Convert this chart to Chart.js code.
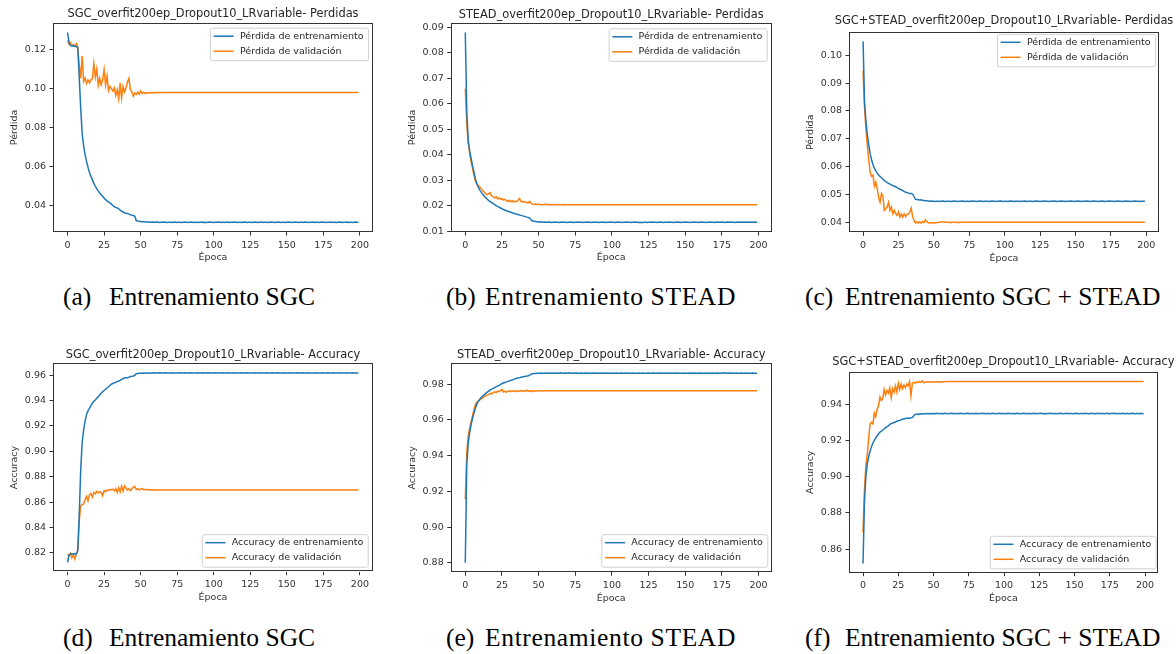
<!DOCTYPE html>
<html>
<head>
<meta charset="utf-8">
<script src="https://cdn.jsdelivr.net/npm/chart.js@4.4.1/dist/chart.umd.min.js"></script>
<style>
	body { margin: 0; background: #fff; width: 1176px; height: 654px; position: relative; overflow: hidden; }
	.panel { position: absolute; height: 270px; }
	.cap { position: absolute; font-family: "Liberation Serif", serif; font-size: 25.5px; line-height: 26px; white-space: nowrap; color: #000; }
	.wide { letter-spacing: 0.65px; }
</style>
</head>
<body>
<div class="panel" style="left:0;top:0;width:390px"><canvas id="chartA"></canvas></div>
<div class="panel" style="left:395px;top:0;width:390px"><canvas id="chartB"></canvas></div>
<div class="panel" style="left:790px;top:0;width:386px"><canvas id="chartC"></canvas></div>
<div class="panel" style="left:0;top:340px;width:390px"><canvas id="chartD"></canvas></div>
<div class="panel" style="left:395px;top:340px;width:390px"><canvas id="chartE"></canvas></div>
<div class="panel" style="left:790px;top:340px;width:386px"><canvas id="chartF"></canvas></div>

<div class="cap" style="left:63px;top:284px">(a)</div><div class="cap" style="left:109px;top:284px">Entrenamiento SGC</div>
<div class="cap" style="left:446px;top:284px">(b)</div><div class="cap wide" style="left:485px;top:284px">Entrenamiento STEAD</div>
<div class="cap" style="left:805px;top:284px">(c)</div><div class="cap" style="left:845px;top:284px">Entrenamiento SGC + STEAD</div>
<div class="cap" style="left:63px;top:625px">(d)</div><div class="cap" style="left:109px;top:625px">Entrenamiento SGC</div>
<div class="cap" style="left:446px;top:625px">(e)</div><div class="cap wide" style="left:485px;top:625px">Entrenamiento STEAD</div>
<div class="cap" style="left:805px;top:625px">(f)</div><div class="cap" style="left:845px;top:625px">Entrenamiento SGC + STEAD</div>

<script>
// epochs 0..199 on the x axis
const epochs = Array.from({ length: 200 }, (_, i) => i);
const xTicks = [0, 25, 50, 75, 100, 125, 150, 175, 200];

const lossLabels = ['Pérdida de entrenamiento', 'Pérdida de validación'];
const accLabels = ['Accuracy de entrenamiento', 'Accuracy de validación'];

// (a) SGC loss
const lossTicksSGC = [0.04, 0.06, 0.08, 0.10, 0.12];
const lossTrainSGC = [
	0.1290, 0.1240, 0.1222, 0.1220, 0.1221, 0.1219, 0.1218, 0.1210, 0.1060, 0.0900,
	0.0770, 0.0705, 0.0660, 0.0625, 0.0595, 0.0568, 0.0548, 0.0530, 0.0512, 0.0497,
	0.0483, 0.0472, 0.0462, 0.0453, 0.0445, 0.0436, 0.0428, 0.0422, 0.0417, 0.0411,
	0.0405, 0.0398, 0.0391, 0.0388, 0.0385, 0.0380, 0.0374, 0.0368, 0.0364, 0.0360,
	0.0357, 0.0356, 0.0353, 0.0350, 0.0348, 0.0346, 0.0342, 0.0320, 0.0317, 0.0316,
	0.0315, 0.0314, 0.0314, 0.0313, 0.0312, 0.0313, 0.0312, 0.0311, 0.0312, 0.0311,
	0.0311, 0.0312, 0.0311, 0.0310, 0.0311, 0.0311, 0.0312, 0.0311, 0.0310, 0.0311,
	0.0311, 0.0310, 0.0311, 0.0312, 0.0311, 0.0310, 0.0311, 0.0311, 0.0310, 0.0311,
	0.0312, 0.0311, 0.0310, 0.0311, 0.0311, 0.0312, 0.0310, 0.0311, 0.0311, 0.0310,
	0.0311, 0.0311, 0.0312, 0.0310, 0.0311, 0.0310, 0.0311, 0.0312, 0.0311, 0.0311,
	0.0310, 0.0311, 0.0311, 0.0312, 0.0311, 0.0310, 0.0311, 0.0311, 0.0310, 0.0312,
	0.0311, 0.0310, 0.0311, 0.0311, 0.0312, 0.0311, 0.0310, 0.0311, 0.0311, 0.0310,
	0.0311, 0.0312, 0.0311, 0.0310, 0.0311, 0.0311, 0.0310, 0.0311, 0.0312, 0.0311,
	0.0310, 0.0311, 0.0311, 0.0312, 0.0310, 0.0311, 0.0311, 0.0310, 0.0311, 0.0312,
	0.0311, 0.0311, 0.0310, 0.0311, 0.0312, 0.0311, 0.0310, 0.0311, 0.0311, 0.0310,
	0.0311, 0.0312, 0.0311, 0.0311, 0.0310, 0.0311, 0.0312, 0.0311, 0.0310, 0.0311,
	0.0311, 0.0310, 0.0312, 0.0311, 0.0311, 0.0310, 0.0311, 0.0311, 0.0312, 0.0310,
	0.0311, 0.0311, 0.0310, 0.0311, 0.0312, 0.0311, 0.0311, 0.0310, 0.0311, 0.0311,
	0.0312, 0.0310, 0.0311, 0.0311, 0.0310, 0.0311, 0.0312, 0.0311, 0.0310, 0.0311,
	0.0311, 0.0312, 0.0310, 0.0311, 0.0311, 0.0310, 0.0311, 0.0312, 0.0311, 0.0311
];
const lossValSGC = [
	0.1250, 0.1230, 0.1238, 0.1222, 0.1228, 0.1218, 0.1233, 0.1215, 0.1120, 0.1054,
	0.1169, 0.1037, 0.1055, 0.1027, 0.1045, 0.1030, 0.1046, 0.1052, 0.1130, 0.1060,
	0.1102, 0.1018, 0.1055, 0.1020, 0.1045, 0.1100, 0.1018, 0.1065, 0.0990, 0.1012,
	0.1000, 0.0988, 0.1005, 0.0965, 0.0995, 0.0948, 0.1030, 0.0953, 0.1012, 0.0983,
	0.1005, 0.1035, 0.1053, 0.0995, 0.0983, 0.0961, 0.0978, 0.0971, 0.0983, 0.0972,
	0.0988, 0.0976, 0.0982, 0.0975, 0.0980, 0.0977, 0.0981, 0.0978, 0.0980, 0.0979,
	0.0981, 0.0979, 0.0980, 0.0982, 0.0979, 0.0980, 0.0980, 0.0981, 0.0980, 0.0980,
	0.0980, 0.0980, 0.0980, 0.0980, 0.0980, 0.0980, 0.0980, 0.0980, 0.0980, 0.0980,
	0.0980, 0.0980, 0.0980, 0.0980, 0.0980, 0.0980, 0.0980, 0.0980, 0.0980, 0.0980,
	0.0980, 0.0980, 0.0980, 0.0980, 0.0980, 0.0980, 0.0980, 0.0980, 0.0980, 0.0980,
	0.0980, 0.0980, 0.0980, 0.0980, 0.0980, 0.0980, 0.0980, 0.0980, 0.0980, 0.0980,
	0.0980, 0.0980, 0.0980, 0.0980, 0.0980, 0.0980, 0.0980, 0.0980, 0.0980, 0.0980,
	0.0980, 0.0980, 0.0980, 0.0980, 0.0980, 0.0980, 0.0980, 0.0980, 0.0980, 0.0980,
	0.0980, 0.0980, 0.0980, 0.0980, 0.0980, 0.0980, 0.0980, 0.0980, 0.0980, 0.0980,
	0.0980, 0.0980, 0.0980, 0.0980, 0.0980, 0.0980, 0.0980, 0.0980, 0.0980, 0.0980,
	0.0980, 0.0980, 0.0980, 0.0980, 0.0980, 0.0980, 0.0980, 0.0980, 0.0980, 0.0980,
	0.0980, 0.0980, 0.0980, 0.0980, 0.0980, 0.0980, 0.0980, 0.0980, 0.0980, 0.0980,
	0.0980, 0.0980, 0.0980, 0.0980, 0.0980, 0.0980, 0.0980, 0.0980, 0.0980, 0.0980,
	0.0980, 0.0980, 0.0980, 0.0980, 0.0980, 0.0980, 0.0980, 0.0980, 0.0980, 0.0980,
	0.0980, 0.0980, 0.0980, 0.0980, 0.0980, 0.0980, 0.0980, 0.0980, 0.0980, 0.0980
];

// (b) STEAD loss
const lossTicksSTEAD = [0.01, 0.02, 0.03, 0.04, 0.05, 0.06, 0.07, 0.08, 0.09];
const lossTrainSTEAD = [
	0.0880, 0.0574, 0.0455, 0.0416, 0.0385, 0.0357, 0.0330, 0.0303, 0.0285, 0.0272,
	0.0261, 0.0252, 0.0245, 0.0238, 0.0232, 0.0226, 0.0221, 0.0217, 0.0213, 0.0209,
	0.0205, 0.0201, 0.0198, 0.0195, 0.0192, 0.0189, 0.0186, 0.0184, 0.0181, 0.0179,
	0.0177, 0.0175, 0.0173, 0.0171, 0.0169, 0.0167, 0.0166, 0.0164, 0.0163, 0.0161,
	0.0160, 0.0158, 0.0156, 0.0155, 0.0152, 0.0144, 0.0141, 0.0140, 0.0139, 0.0138,
	0.0137, 0.0138, 0.0137, 0.0136, 0.0137, 0.0136, 0.0136, 0.0137, 0.0136, 0.0135,
	0.0136, 0.0137, 0.0136, 0.0136, 0.0135, 0.0136, 0.0137, 0.0136, 0.0136, 0.0135,
	0.0136, 0.0136, 0.0137, 0.0136, 0.0135, 0.0136, 0.0136, 0.0137, 0.0136, 0.0136,
	0.0135, 0.0136, 0.0136, 0.0137, 0.0136, 0.0136, 0.0135, 0.0136, 0.0137, 0.0136,
	0.0136, 0.0135, 0.0136, 0.0136, 0.0137, 0.0136, 0.0135, 0.0136, 0.0136, 0.0137,
	0.0136, 0.0136, 0.0135, 0.0136, 0.0137, 0.0136, 0.0136, 0.0135, 0.0136, 0.0136,
	0.0137, 0.0136, 0.0136, 0.0135, 0.0136, 0.0136, 0.0137, 0.0136, 0.0135, 0.0136,
	0.0135, 0.0135, 0.0136, 0.0136, 0.0135, 0.0136, 0.0136, 0.0137, 0.0136, 0.0136,
	0.0136, 0.0135, 0.0136, 0.0137, 0.0136, 0.0135, 0.0136, 0.0136, 0.0136, 0.0137,
	0.0136, 0.0136, 0.0135, 0.0136, 0.0136, 0.0137, 0.0136, 0.0135, 0.0136, 0.0136,
	0.0137, 0.0136, 0.0136, 0.0135, 0.0136, 0.0136, 0.0137, 0.0136, 0.0136, 0.0135,
	0.0136, 0.0137, 0.0136, 0.0136, 0.0135, 0.0136, 0.0136, 0.0137, 0.0136, 0.0136,
	0.0135, 0.0136, 0.0137, 0.0136, 0.0136, 0.0137, 0.0136, 0.0135, 0.0136, 0.0137,
	0.0136, 0.0137, 0.0136, 0.0136, 0.0135, 0.0136, 0.0137, 0.0136, 0.0136, 0.0137,
	0.0136, 0.0137, 0.0136, 0.0136, 0.0137, 0.0136, 0.0136, 0.0137, 0.0136, 0.0136
];
const lossValSTEAD = [
	0.0660, 0.0520, 0.0450, 0.0405, 0.0372, 0.0345, 0.0318, 0.0296, 0.0285, 0.0280,
	0.0274, 0.0267, 0.0259, 0.0254, 0.0247, 0.0244, 0.0248, 0.0252, 0.0240, 0.0236,
	0.0232, 0.0236, 0.0228, 0.0231, 0.0226, 0.0229, 0.0223, 0.0226, 0.0220, 0.0218,
	0.0222, 0.0216, 0.0220, 0.0215, 0.0219, 0.0217, 0.0222, 0.0229, 0.0218, 0.0215,
	0.0218, 0.0214, 0.0213, 0.0212, 0.0218, 0.0210, 0.0207, 0.0206, 0.0207, 0.0205,
	0.0207, 0.0205, 0.0206, 0.0205, 0.0206, 0.0207, 0.0205, 0.0206, 0.0205, 0.0205,
	0.0206, 0.0205, 0.0205, 0.0206, 0.0205, 0.0205, 0.0205, 0.0206, 0.0205, 0.0205,
	0.0205, 0.0205, 0.0205, 0.0205, 0.0205, 0.0205, 0.0205, 0.0205, 0.0205, 0.0205,
	0.0205, 0.0205, 0.0205, 0.0205, 0.0205, 0.0205, 0.0205, 0.0205, 0.0205, 0.0205,
	0.0205, 0.0205, 0.0205, 0.0205, 0.0205, 0.0205, 0.0205, 0.0205, 0.0205, 0.0205,
	0.0205, 0.0205, 0.0205, 0.0205, 0.0205, 0.0205, 0.0205, 0.0205, 0.0205, 0.0205,
	0.0205, 0.0205, 0.0205, 0.0205, 0.0205, 0.0205, 0.0205, 0.0205, 0.0205, 0.0205,
	0.0205, 0.0205, 0.0205, 0.0205, 0.0205, 0.0205, 0.0205, 0.0205, 0.0205, 0.0205,
	0.0205, 0.0205, 0.0205, 0.0205, 0.0205, 0.0205, 0.0205, 0.0205, 0.0205, 0.0205,
	0.0205, 0.0205, 0.0205, 0.0205, 0.0205, 0.0205, 0.0205, 0.0205, 0.0205, 0.0205,
	0.0205, 0.0205, 0.0205, 0.0205, 0.0205, 0.0205, 0.0205, 0.0205, 0.0205, 0.0205,
	0.0205, 0.0205, 0.0205, 0.0205, 0.0205, 0.0205, 0.0205, 0.0205, 0.0205, 0.0205,
	0.0205, 0.0205, 0.0205, 0.0205, 0.0205, 0.0205, 0.0205, 0.0205, 0.0205, 0.0205,
	0.0205, 0.0205, 0.0205, 0.0205, 0.0205, 0.0205, 0.0205, 0.0205, 0.0205, 0.0205,
	0.0205, 0.0205, 0.0205, 0.0205, 0.0205, 0.0205, 0.0205, 0.0205, 0.0205, 0.0205
];

// (c) SGC+STEAD loss
const lossTicksMix = [0.04, 0.05, 0.06, 0.07, 0.08, 0.09, 0.10];
const lossTrainMix = [
	0.1050, 0.0834, 0.0763, 0.0715, 0.0678, 0.0646, 0.0625, 0.0607, 0.0594, 0.0585,
	0.0577, 0.0570, 0.0565, 0.0560, 0.0555, 0.0550, 0.0547, 0.0543, 0.0540, 0.0537,
	0.0534, 0.0532, 0.0530, 0.0528, 0.0525, 0.0522, 0.0519, 0.0517, 0.0514, 0.0511,
	0.0508, 0.0507, 0.0505, 0.0504, 0.0504, 0.0502, 0.0492, 0.0483, 0.0482, 0.0481,
	0.0480, 0.0481, 0.0479, 0.0479, 0.0478, 0.0478, 0.0477, 0.0476, 0.0477, 0.0476,
	0.0476, 0.0475, 0.0476, 0.0476, 0.0475, 0.0476, 0.0477, 0.0476, 0.0475, 0.0476,
	0.0476, 0.0476, 0.0475, 0.0476, 0.0477, 0.0476, 0.0476, 0.0475, 0.0476, 0.0476,
	0.0477, 0.0476, 0.0475, 0.0476, 0.0476, 0.0475, 0.0476, 0.0477, 0.0476, 0.0476,
	0.0475, 0.0476, 0.0476, 0.0477, 0.0476, 0.0475, 0.0476, 0.0476, 0.0476, 0.0475,
	0.0476, 0.0477, 0.0476, 0.0476, 0.0475, 0.0476, 0.0476, 0.0477, 0.0476, 0.0475,
	0.0476, 0.0476, 0.0475, 0.0476, 0.0477, 0.0476, 0.0476, 0.0475, 0.0476, 0.0476,
	0.0476, 0.0475, 0.0476, 0.0476, 0.0477, 0.0476, 0.0475, 0.0476, 0.0476, 0.0476,
	0.0475, 0.0476, 0.0477, 0.0476, 0.0476, 0.0475, 0.0476, 0.0476, 0.0477, 0.0476,
	0.0476, 0.0475, 0.0476, 0.0476, 0.0476, 0.0477, 0.0476, 0.0475, 0.0476, 0.0476,
	0.0477, 0.0476, 0.0476, 0.0475, 0.0476, 0.0476, 0.0476, 0.0477, 0.0476, 0.0475,
	0.0476, 0.0476, 0.0477, 0.0476, 0.0475, 0.0476, 0.0476, 0.0476, 0.0477, 0.0476,
	0.0475, 0.0476, 0.0476, 0.0477, 0.0476, 0.0476, 0.0475, 0.0476, 0.0476, 0.0477,
	0.0476, 0.0475, 0.0476, 0.0476, 0.0477, 0.0476, 0.0476, 0.0475, 0.0476, 0.0476,
	0.0477, 0.0476, 0.0476, 0.0475, 0.0476, 0.0476, 0.0477, 0.0476, 0.0476, 0.0475,
	0.0476, 0.0476, 0.0477, 0.0476, 0.0476, 0.0475, 0.0476, 0.0476, 0.0476, 0.0476
];
const lossValMix = [
	0.0945, 0.0815, 0.0735, 0.0675, 0.0625, 0.0580, 0.0565, 0.0570, 0.0530, 0.0545,
	0.0520, 0.0490, 0.0472, 0.0504, 0.0495, 0.0443, 0.0449, 0.0455, 0.0472, 0.0443,
	0.0455, 0.0431, 0.0443, 0.0432, 0.0425, 0.0437, 0.0419, 0.0430, 0.0419, 0.0431,
	0.0421, 0.0428, 0.0430, 0.0438, 0.0451, 0.0420, 0.0407, 0.0397, 0.0403, 0.0397,
	0.0402, 0.0397, 0.0403, 0.0399, 0.0409, 0.0403, 0.0398, 0.0399, 0.0399, 0.0398,
	0.0398, 0.0399, 0.0399, 0.0400, 0.0400, 0.0401, 0.0402, 0.0402, 0.0401, 0.0400,
	0.0400, 0.0400, 0.0399, 0.0400, 0.0400, 0.0400, 0.0400, 0.0399, 0.0400, 0.0400,
	0.0400, 0.0400, 0.0400, 0.0400, 0.0400, 0.0400, 0.0400, 0.0400, 0.0400, 0.0400,
	0.0400, 0.0400, 0.0400, 0.0400, 0.0400, 0.0400, 0.0400, 0.0400, 0.0400, 0.0400,
	0.0400, 0.0400, 0.0400, 0.0400, 0.0400, 0.0400, 0.0400, 0.0400, 0.0400, 0.0400,
	0.0400, 0.0400, 0.0400, 0.0400, 0.0400, 0.0400, 0.0400, 0.0400, 0.0400, 0.0400,
	0.0400, 0.0400, 0.0400, 0.0400, 0.0400, 0.0400, 0.0400, 0.0400, 0.0400, 0.0400,
	0.0400, 0.0400, 0.0400, 0.0400, 0.0400, 0.0400, 0.0400, 0.0400, 0.0400, 0.0400,
	0.0400, 0.0400, 0.0400, 0.0400, 0.0400, 0.0400, 0.0400, 0.0400, 0.0400, 0.0400,
	0.0400, 0.0400, 0.0400, 0.0400, 0.0400, 0.0400, 0.0400, 0.0400, 0.0400, 0.0400,
	0.0400, 0.0400, 0.0400, 0.0400, 0.0400, 0.0400, 0.0400, 0.0400, 0.0400, 0.0400,
	0.0400, 0.0400, 0.0400, 0.0400, 0.0400, 0.0400, 0.0400, 0.0400, 0.0400, 0.0400,
	0.0400, 0.0400, 0.0400, 0.0400, 0.0400, 0.0400, 0.0400, 0.0400, 0.0400, 0.0400,
	0.0400, 0.0400, 0.0400, 0.0400, 0.0400, 0.0400, 0.0400, 0.0400, 0.0400, 0.0400,
	0.0400, 0.0400, 0.0400, 0.0400, 0.0400, 0.0400, 0.0400, 0.0400, 0.0400, 0.0400
];

// (d) SGC accuracy
const accTicksSGC = [0.82, 0.84, 0.86, 0.88, 0.90, 0.92, 0.94, 0.96];
const accTrainSGC = [
	0.8125, 0.8180, 0.8190, 0.8192, 0.8188, 0.8194, 0.8190, 0.8215, 0.8500, 0.8850,
	0.9070, 0.9170, 0.9240, 0.9290, 0.9320, 0.9340, 0.9360, 0.9380, 0.9395, 0.9405,
	0.9420, 0.9430, 0.9445, 0.9460, 0.9470, 0.9480, 0.9490, 0.9500, 0.9510, 0.9520,
	0.9530, 0.9535, 0.9540, 0.9545, 0.9550, 0.9555, 0.9560, 0.9568, 0.9575, 0.9578,
	0.9580, 0.9581, 0.9585, 0.9590, 0.9592, 0.9595, 0.9600, 0.9612, 0.9615, 0.9616,
	0.9617, 0.9616, 0.9618, 0.9617, 0.9619, 0.9618, 0.9617, 0.9619, 0.9618, 0.9620,
	0.9618, 0.9619, 0.9618, 0.9620, 0.9619, 0.9618, 0.9619, 0.9620, 0.9618, 0.9619,
	0.9619, 0.9618, 0.9620, 0.9619, 0.9618, 0.9619, 0.9619, 0.9620, 0.9618, 0.9619,
	0.9620, 0.9619, 0.9618, 0.9619, 0.9620, 0.9619, 0.9618, 0.9619, 0.9619, 0.9620,
	0.9618, 0.9619, 0.9619, 0.9620, 0.9618, 0.9619, 0.9620, 0.9619, 0.9618, 0.9619,
	0.9619, 0.9620, 0.9618, 0.9619, 0.9619, 0.9618, 0.9620, 0.9619, 0.9619, 0.9618,
	0.9620, 0.9619, 0.9618, 0.9619, 0.9620, 0.9619, 0.9619, 0.9618, 0.9619, 0.9620,
	0.9619, 0.9618, 0.9619, 0.9620, 0.9619, 0.9618, 0.9619, 0.9619, 0.9620, 0.9618,
	0.9619, 0.9620, 0.9619, 0.9618, 0.9619, 0.9619, 0.9620, 0.9619, 0.9618, 0.9619,
	0.9620, 0.9618, 0.9619, 0.9619, 0.9620, 0.9619, 0.9618, 0.9619, 0.9620, 0.9619,
	0.9618, 0.9619, 0.9620, 0.9619, 0.9619, 0.9618, 0.9619, 0.9620, 0.9619, 0.9618,
	0.9619, 0.9620, 0.9618, 0.9619, 0.9619, 0.9620, 0.9619, 0.9618, 0.9619, 0.9619,
	0.9620, 0.9619, 0.9618, 0.9619, 0.9620, 0.9619, 0.9619, 0.9618, 0.9620, 0.9619,
	0.9618, 0.9619, 0.9620, 0.9619, 0.9618, 0.9619, 0.9619, 0.9620, 0.9618, 0.9619,
	0.9619, 0.9620, 0.9619, 0.9618, 0.9619, 0.9620, 0.9619, 0.9618, 0.9619, 0.9619
];
const accValSGC = [
	0.8190, 0.8175, 0.8195, 0.8160, 0.8185, 0.8150, 0.8190, 0.8220, 0.8450, 0.8570,
	0.8580, 0.8585, 0.8620, 0.8645, 0.8610, 0.8655, 0.8668, 0.8638, 0.8675, 0.8665,
	0.8685, 0.8672, 0.8682, 0.8676, 0.8650, 0.8690, 0.8682, 0.8695, 0.8692, 0.8700,
	0.8695, 0.8702, 0.8688, 0.8706, 0.8675, 0.8712, 0.8680, 0.8726, 0.8686, 0.8728,
	0.8712, 0.8694, 0.8706, 0.8690, 0.8705, 0.8716, 0.8724, 0.8698, 0.8706, 0.8696,
	0.8702, 0.8706, 0.8698, 0.8697, 0.8701, 0.8696, 0.8698, 0.8695, 0.8697, 0.8695,
	0.8696, 0.8695, 0.8694, 0.8695, 0.8695, 0.8695, 0.8695, 0.8695, 0.8695, 0.8695,
	0.8695, 0.8695, 0.8695, 0.8695, 0.8695, 0.8695, 0.8695, 0.8695, 0.8695, 0.8695,
	0.8695, 0.8695, 0.8695, 0.8695, 0.8695, 0.8695, 0.8695, 0.8695, 0.8695, 0.8695,
	0.8695, 0.8695, 0.8695, 0.8695, 0.8695, 0.8695, 0.8695, 0.8695, 0.8695, 0.8695,
	0.8695, 0.8695, 0.8695, 0.8695, 0.8695, 0.8695, 0.8695, 0.8695, 0.8695, 0.8695,
	0.8695, 0.8695, 0.8695, 0.8695, 0.8695, 0.8695, 0.8695, 0.8695, 0.8695, 0.8695,
	0.8695, 0.8695, 0.8695, 0.8695, 0.8695, 0.8695, 0.8695, 0.8695, 0.8695, 0.8695,
	0.8695, 0.8695, 0.8695, 0.8695, 0.8695, 0.8695, 0.8695, 0.8695, 0.8695, 0.8695,
	0.8695, 0.8695, 0.8695, 0.8695, 0.8695, 0.8695, 0.8695, 0.8695, 0.8695, 0.8695,
	0.8695, 0.8695, 0.8695, 0.8695, 0.8695, 0.8695, 0.8695, 0.8695, 0.8695, 0.8695,
	0.8695, 0.8695, 0.8695, 0.8695, 0.8695, 0.8695, 0.8695, 0.8695, 0.8695, 0.8695,
	0.8695, 0.8695, 0.8695, 0.8695, 0.8695, 0.8695, 0.8695, 0.8695, 0.8695, 0.8695,
	0.8695, 0.8695, 0.8695, 0.8695, 0.8695, 0.8695, 0.8695, 0.8695, 0.8695, 0.8695,
	0.8695, 0.8695, 0.8695, 0.8695, 0.8695, 0.8695, 0.8695, 0.8695, 0.8695, 0.8695
];

// (e) STEAD accuracy
const accTicksSTEAD = [0.88, 0.90, 0.92, 0.94, 0.96, 0.98];
const accTrainSTEAD = [
	0.8800, 0.9350, 0.9470, 0.9530, 0.9575, 0.9610, 0.9640, 0.9668, 0.9690, 0.9705,
	0.9716, 0.9726, 0.9734, 0.9741, 0.9748, 0.9755, 0.9761, 0.9767, 0.9772, 0.9776,
	0.9780, 0.9784, 0.9788, 0.9793, 0.9797, 0.9803, 0.9806, 0.9809, 0.9812, 0.9815,
	0.9818, 0.9821, 0.9823, 0.9826, 0.9829, 0.9832, 0.9834, 0.9836, 0.9838, 0.9840,
	0.9842, 0.9843, 0.9845, 0.9847, 0.9850, 0.9856, 0.9858, 0.9859, 0.9859, 0.9860,
	0.9861, 0.9860, 0.9862, 0.9861, 0.9860, 0.9862, 0.9861, 0.9862, 0.9860, 0.9861,
	0.9862, 0.9861, 0.9860, 0.9862, 0.9861, 0.9863, 0.9861, 0.9860, 0.9862, 0.9861,
	0.9862, 0.9863, 0.9861, 0.9860, 0.9862, 0.9861, 0.9862, 0.9860, 0.9861, 0.9862,
	0.9861, 0.9860, 0.9862, 0.9861, 0.9862, 0.9861, 0.9860, 0.9862, 0.9861, 0.9862,
	0.9860, 0.9861, 0.9862, 0.9861, 0.9860, 0.9862, 0.9861, 0.9862, 0.9861, 0.9860,
	0.9862, 0.9861, 0.9861, 0.9862, 0.9860, 0.9861, 0.9862, 0.9861, 0.9860, 0.9862,
	0.9861, 0.9862, 0.9860, 0.9861, 0.9862, 0.9861, 0.9860, 0.9861, 0.9862, 0.9861,
	0.9860, 0.9862, 0.9861, 0.9860, 0.9861, 0.9862, 0.9861, 0.9860, 0.9862, 0.9861,
	0.9861, 0.9860, 0.9862, 0.9861, 0.9862, 0.9860, 0.9861, 0.9862, 0.9861, 0.9860,
	0.9862, 0.9861, 0.9860, 0.9862, 0.9861, 0.9862, 0.9861, 0.9860, 0.9861, 0.9862,
	0.9861, 0.9860, 0.9862, 0.9861, 0.9860, 0.9862, 0.9861, 0.9862, 0.9860, 0.9861,
	0.9862, 0.9861, 0.9860, 0.9861, 0.9862, 0.9861, 0.9860, 0.9862, 0.9861, 0.9862,
	0.9860, 0.9861, 0.9862, 0.9861, 0.9860, 0.9862, 0.9861, 0.9863, 0.9861, 0.9860,
	0.9862, 0.9861, 0.9862, 0.9860, 0.9861, 0.9862, 0.9861, 0.9860, 0.9862, 0.9861,
	0.9860, 0.9862, 0.9861, 0.9862, 0.9860, 0.9861, 0.9862, 0.9861, 0.9860, 0.9861
];
const accValSTEAD = [
	0.9155, 0.9420, 0.9510, 0.9555, 0.9590, 0.9625, 0.9660, 0.9688, 0.9700, 0.9706,
	0.9712, 0.9718, 0.9722, 0.9730, 0.9735, 0.9738, 0.9742, 0.9748, 0.9744, 0.9752,
	0.9756, 0.9752, 0.9760, 0.9757, 0.9763, 0.9770, 0.9756, 0.9760, 0.9754, 0.9760,
	0.9762, 0.9757, 0.9761, 0.9759, 0.9763, 0.9758, 0.9762, 0.9760, 0.9764, 0.9759,
	0.9762, 0.9760, 0.9766, 0.9760, 0.9763, 0.9758, 0.9762, 0.9761, 0.9762, 0.9761,
	0.9762, 0.9763, 0.9762, 0.9761, 0.9762, 0.9763, 0.9762, 0.9762, 0.9763, 0.9762,
	0.9762, 0.9763, 0.9762, 0.9762, 0.9763, 0.9762, 0.9762, 0.9762, 0.9763, 0.9762,
	0.9762, 0.9762, 0.9762, 0.9762, 0.9762, 0.9762, 0.9762, 0.9762, 0.9762, 0.9762,
	0.9762, 0.9762, 0.9762, 0.9762, 0.9762, 0.9762, 0.9762, 0.9762, 0.9762, 0.9762,
	0.9762, 0.9762, 0.9762, 0.9762, 0.9762, 0.9762, 0.9762, 0.9762, 0.9762, 0.9762,
	0.9762, 0.9762, 0.9762, 0.9762, 0.9762, 0.9762, 0.9762, 0.9762, 0.9762, 0.9762,
	0.9762, 0.9762, 0.9762, 0.9762, 0.9762, 0.9762, 0.9762, 0.9762, 0.9762, 0.9762,
	0.9762, 0.9762, 0.9762, 0.9762, 0.9762, 0.9762, 0.9762, 0.9762, 0.9762, 0.9762,
	0.9762, 0.9762, 0.9762, 0.9762, 0.9762, 0.9762, 0.9762, 0.9762, 0.9762, 0.9762,
	0.9762, 0.9762, 0.9762, 0.9762, 0.9762, 0.9762, 0.9762, 0.9762, 0.9762, 0.9762,
	0.9762, 0.9762, 0.9762, 0.9762, 0.9762, 0.9762, 0.9762, 0.9762, 0.9762, 0.9762,
	0.9762, 0.9762, 0.9762, 0.9762, 0.9762, 0.9762, 0.9762, 0.9762, 0.9762, 0.9762,
	0.9762, 0.9762, 0.9762, 0.9762, 0.9762, 0.9762, 0.9762, 0.9762, 0.9762, 0.9762,
	0.9762, 0.9762, 0.9762, 0.9762, 0.9762, 0.9762, 0.9762, 0.9762, 0.9762, 0.9762,
	0.9762, 0.9762, 0.9762, 0.9762, 0.9762, 0.9762, 0.9762, 0.9762, 0.9762, 0.9762
];

// (f) SGC+STEAD accuracy
const accTicksMix = [0.86, 0.88, 0.90, 0.92, 0.94];
const accTrainMix = [
	0.8520, 0.8860, 0.9000, 0.9070, 0.9110, 0.9140, 0.9165, 0.9185, 0.9200, 0.9213,
	0.9225, 0.9235, 0.9245, 0.9250, 0.9257, 0.9263, 0.9270, 0.9275, 0.9280, 0.9288,
	0.9292, 0.9295, 0.9298, 0.9301, 0.9305, 0.9308, 0.9310, 0.9313, 0.9316, 0.9318,
	0.9320, 0.9321, 0.9322, 0.9322, 0.9324, 0.9326, 0.9335, 0.9343, 0.9344, 0.9345,
	0.9344, 0.9346, 0.9345, 0.9347, 0.9346, 0.9347, 0.9348, 0.9347, 0.9348, 0.9347,
	0.9348, 0.9347, 0.9349, 0.9348, 0.9347, 0.9348, 0.9348, 0.9347, 0.9349, 0.9348,
	0.9347, 0.9348, 0.9348, 0.9349, 0.9347, 0.9348, 0.9348, 0.9347, 0.9348, 0.9349,
	0.9348, 0.9347, 0.9348, 0.9348, 0.9349, 0.9348, 0.9347, 0.9348, 0.9348, 0.9347,
	0.9349, 0.9348, 0.9347, 0.9348, 0.9348, 0.9349, 0.9348, 0.9347, 0.9348, 0.9348,
	0.9347, 0.9348, 0.9349, 0.9348, 0.9347, 0.9348, 0.9348, 0.9349, 0.9347, 0.9348,
	0.9348, 0.9347, 0.9348, 0.9349, 0.9348, 0.9347, 0.9348, 0.9348, 0.9347, 0.9349,
	0.9348, 0.9348, 0.9347, 0.9348, 0.9349, 0.9348, 0.9347, 0.9348, 0.9348, 0.9347,
	0.9348, 0.9349, 0.9348, 0.9347, 0.9348, 0.9348, 0.9349, 0.9348, 0.9347, 0.9348,
	0.9347, 0.9348, 0.9348, 0.9349, 0.9348, 0.9347, 0.9348, 0.9348, 0.9347, 0.9348,
	0.9349, 0.9348, 0.9347, 0.9348, 0.9348, 0.9349, 0.9347, 0.9348, 0.9348, 0.9347,
	0.9348, 0.9349, 0.9348, 0.9347, 0.9348, 0.9348, 0.9347, 0.9349, 0.9348, 0.9348,
	0.9347, 0.9348, 0.9349, 0.9348, 0.9347, 0.9348, 0.9348, 0.9349, 0.9347, 0.9348,
	0.9348, 0.9347, 0.9348, 0.9349, 0.9348, 0.9347, 0.9348, 0.9348, 0.9349, 0.9348,
	0.9347, 0.9348, 0.9348, 0.9347, 0.9349, 0.9348, 0.9347, 0.9348, 0.9348, 0.9347,
	0.9348, 0.9349, 0.9348, 0.9347, 0.9348, 0.9348, 0.9347, 0.9348, 0.9348, 0.9347
];
const accValMix = [
	0.8690, 0.8930, 0.9060, 0.9120, 0.9210, 0.9290, 0.9300, 0.9290, 0.9350, 0.9330,
	0.9370, 0.9390, 0.9440, 0.9420, 0.9430, 0.9480, 0.9450, 0.9475, 0.9460, 0.9490,
	0.9435, 0.9485, 0.9465, 0.9500, 0.9465, 0.9515, 0.9480, 0.9510, 0.9485, 0.9505,
	0.9490, 0.9510, 0.9500, 0.9525, 0.9445, 0.9515, 0.9520, 0.9515, 0.9522, 0.9518,
	0.9525, 0.9520, 0.9528, 0.9518, 0.9520, 0.9522, 0.9524, 0.9521, 0.9523, 0.9522,
	0.9521, 0.9523, 0.9522, 0.9524, 0.9522, 0.9521, 0.9522, 0.9523, 0.9523, 0.9524,
	0.9524, 0.9524, 0.9524, 0.9524, 0.9524, 0.9524, 0.9524, 0.9524, 0.9524, 0.9524,
	0.9524, 0.9524, 0.9524, 0.9524, 0.9524, 0.9524, 0.9524, 0.9524, 0.9524, 0.9524,
	0.9524, 0.9524, 0.9524, 0.9524, 0.9524, 0.9524, 0.9524, 0.9524, 0.9524, 0.9524,
	0.9524, 0.9524, 0.9524, 0.9524, 0.9524, 0.9524, 0.9524, 0.9524, 0.9524, 0.9524,
	0.9524, 0.9524, 0.9524, 0.9524, 0.9524, 0.9524, 0.9524, 0.9524, 0.9524, 0.9524,
	0.9524, 0.9524, 0.9524, 0.9524, 0.9524, 0.9524, 0.9524, 0.9524, 0.9524, 0.9524,
	0.9524, 0.9524, 0.9524, 0.9524, 0.9524, 0.9524, 0.9524, 0.9524, 0.9524, 0.9524,
	0.9524, 0.9524, 0.9524, 0.9524, 0.9524, 0.9524, 0.9524, 0.9524, 0.9524, 0.9524,
	0.9524, 0.9524, 0.9524, 0.9524, 0.9524, 0.9524, 0.9524, 0.9524, 0.9524, 0.9524,
	0.9524, 0.9524, 0.9524, 0.9524, 0.9524, 0.9524, 0.9524, 0.9524, 0.9524, 0.9524,
	0.9524, 0.9524, 0.9524, 0.9524, 0.9524, 0.9524, 0.9524, 0.9524, 0.9524, 0.9524,
	0.9524, 0.9524, 0.9524, 0.9524, 0.9524, 0.9524, 0.9524, 0.9524, 0.9524, 0.9524,
	0.9524, 0.9524, 0.9524, 0.9524, 0.9524, 0.9524, 0.9524, 0.9524, 0.9524, 0.9524,
	0.9524, 0.9524, 0.9524, 0.9524, 0.9524, 0.9524, 0.9524, 0.9524, 0.9524, 0.9524
];

Chart.defaults.font.family = '"DejaVu Sans", sans-serif';
Chart.defaults.color = '#333';

const TEXT = '#262626';
const BLUE = '#1f77b4';
const ORANGE = '#ff7f0e';
const Y_AXIS_W = 43.7;
const X_AXIS_H = 31.7;

// matplotlib-like frame, title and legend drawn over the chart area
const mplDecor = {
	id: 'mplDecor',
	afterDatasetsDraw(chart, args, opts) {
		const { ctx, chartArea: a } = chart;
		ctx.save();

		// axes frame
		ctx.strokeStyle = '#333';
		ctx.lineWidth = 1;
		ctx.strokeRect(Math.round(a.left) + 0.5, Math.round(a.top) + 0.5,
			Math.round(a.right - a.left) - 1, Math.round(a.bottom - a.top) - 1);

		// title
		ctx.fillStyle = TEXT;
		ctx.font = '11.4px "DejaVu Sans"';
		ctx.textAlign = 'center';
		ctx.textBaseline = 'middle';
		ctx.fillText(opts.title, (a.left + a.right) / 2, opts.titleY);

		// legend
		ctx.font = '9.5px "DejaVu Sans"';
		const sets = chart.data.datasets;
		const tw = Math.max(...sets.map(d => ctx.measureText(d.label).width));
		const w = 3.7 + 20 + 6.3 + tw + 4.4;
		const h = 32.5;
		const x = a.right - opts.insetX - w;
		const y = opts.legendLoc === 'upper right' ? a.top + opts.insetY : a.bottom - opts.insetY - h;
		ctx.beginPath();
		ctx.roundRect(x + 0.5, y + 0.5, w, h, 2);
		ctx.fillStyle = 'rgba(255,255,255,0.8)';
		ctx.fill();
		ctx.strokeStyle = '#d0d0d0';
		ctx.stroke();
		ctx.textAlign = 'left';
		sets.forEach((d, i) => {
			const cy = y + 8.5 + i * 15;
			ctx.beginPath();
			ctx.moveTo(x + 3.7, cy);
			ctx.lineTo(x + 23.7, cy);
			ctx.strokeStyle = d.borderColor;
			ctx.lineWidth = 1.5;
			ctx.stroke();
			ctx.fillStyle = TEXT;
			ctx.fillText(d.label, x + 30, cy);
		});
		ctx.restore();
	}
};

function autoRange(series) {
	const all = series.flat();
	const lo = Math.min(...all);
	const hi = Math.max(...all);
	const m = (hi - lo) * 0.05;
	return [lo - m, hi + m];
}

function makePanel(id, p) {
	const canvas = document.getElementById(id);
	const W = canvas.parentNode.clientWidth;
	const H = canvas.parentNode.clientHeight;
	const [yMin, yMax] = autoRange([p.train, p.val]);
	const xPad = (epochs[epochs.length - 1] - epochs[0]) * 0.05;

	new Chart(canvas, {
		type: 'line',
		data: {
			labels: epochs,
			datasets: [
				{ label: p.labels[0], data: p.train, borderColor: BLUE },
				{ label: p.labels[1], data: p.val, borderColor: ORANGE }
			]
		},
		options: {
			responsive: true,
			maintainAspectRatio: false,
			animation: false,
			elements: {
				point: { radius: 0, hoverRadius: 0 },
				line: { borderWidth: 1.5, tension: 0 }
			},
			layout: {
				autoPadding: false,
				padding: {
					left: p.box[0] - Y_AXIS_W,
					top: p.box[1],
					right: W - p.box[2],
					bottom: H - p.box[3] - X_AXIS_H
				}
			},
			plugins: {
				legend: { display: false },
				tooltip: { enabled: false },
				mplDecor: {
					title: p.title,
					titleY: p.titleY,
					legendLoc: p.legendLoc,
					insetX: p.inset[0],
					insetY: p.inset[1]
				}
			},
			scales: {
				x: {
					type: 'linear',
					min: epochs[0] - xPad,
					max: epochs[epochs.length - 1] + xPad,
					afterBuildTicks: s => { s.ticks = xTicks.map(v => ({ value: v })); },
					afterFit: s => { s.height = X_AXIS_H; s.paddingLeft = 0; s.paddingRight = 0; },
					ticks: { font: { size: 9.5 }, color: '#333', padding: 4, maxRotation: 0, autoSkip: false },
					grid: { drawOnChartArea: false, drawTicks: true, tickLength: 3.5, color: '#333' },
					border: { display: false },
					title: { display: true, text: 'Época', font: { size: 9.5 }, color: '#333', padding: 0 }
				},
				y: {
					min: yMin,
					max: yMax,
					afterBuildTicks: s => { s.ticks = p.yTicks.map(v => ({ value: v })); },
					afterFit: s => { s.width = Y_AXIS_W; s.paddingTop = 0; s.paddingBottom = 0; },
					ticks: { font: { size: 9.5 }, color: '#333', padding: 3.5, autoSkip: false, callback: v => v.toFixed(2) },
					grid: { drawOnChartArea: false, drawTicks: true, tickLength: 3.5, color: '#333' },
					border: { display: false },
					title: { display: true, text: p.yLabel, font: { size: 9.5 }, color: '#333', padding: 0 }
				}
			}
		},
		plugins: [mplDecor]
	});
}

makePanel('chartA', {
	title: 'SGC_overfit200ep_Dropout10_LRvariable- Perdidas', titleY: 14.5,
	yLabel: 'Pérdida', labels: lossLabels, train: lossTrainSGC, val: lossValSGC, yTicks: lossTicksSGC,
	box: [53, 23, 373, 232], legendLoc: 'upper right', inset: [5, 4.7]
});
makePanel('chartB', {
	title: 'STEAD_overfit200ep_Dropout10_LRvariable- Perdidas', titleY: 15,
	yLabel: 'Pérdida', labels: lossLabels, train: lossTrainSTEAD, val: lossValSTEAD, yTicks: lossTicksSTEAD,
	box: [55.7, 23, 376.7, 232], legendLoc: 'upper right', inset: [5, 5.3]
});
makePanel('chartC', {
	title: 'SGC+STEAD_overfit200ep_Dropout10_LRvariable- Perdidas', titleY: 20.7,
	yLabel: 'Pérdida', labels: lossLabels, train: lossTrainMix, val: lossValMix, yTicks: lossTicksMix,
	box: [59, 32.3, 369, 232.3], legendLoc: 'upper right', inset: [4, 1.5]
});
makePanel('chartD', {
	title: 'SGC_overfit200ep_Dropout10_LRvariable- Accuracy', titleY: 15,
	yLabel: 'Accuracy', labels: accLabels, train: accTrainSGC, val: accValSGC, yTicks: accTicksSGC,
	box: [53, 23.3, 373, 231.7], legendLoc: 'lower right', inset: [5.3, 5]
});
makePanel('chartE', {
	title: 'STEAD_overfit200ep_Dropout10_LRvariable- Accuracy', titleY: 15,
	yLabel: 'Accuracy', labels: accLabels, train: accTrainSTEAD, val: accValSTEAD, yTicks: accTicksSTEAD,
	box: [55.7, 23.3, 376.7, 232.3], legendLoc: 'lower right', inset: [4.4, 5.6]
});
makePanel('chartF', {
	title: 'SGC+STEAD_overfit200ep_Dropout10_LRvariable- Accuracy', titleY: 21.7,
	yLabel: 'Accuracy', labels: accLabels, train: accTrainMix, val: accValMix, yTicks: accTicksMix,
	box: [59, 31.7, 367.7, 232.7], legendLoc: 'lower right', inset: [2, 4.4]
});
</script>
</body>
</html>
